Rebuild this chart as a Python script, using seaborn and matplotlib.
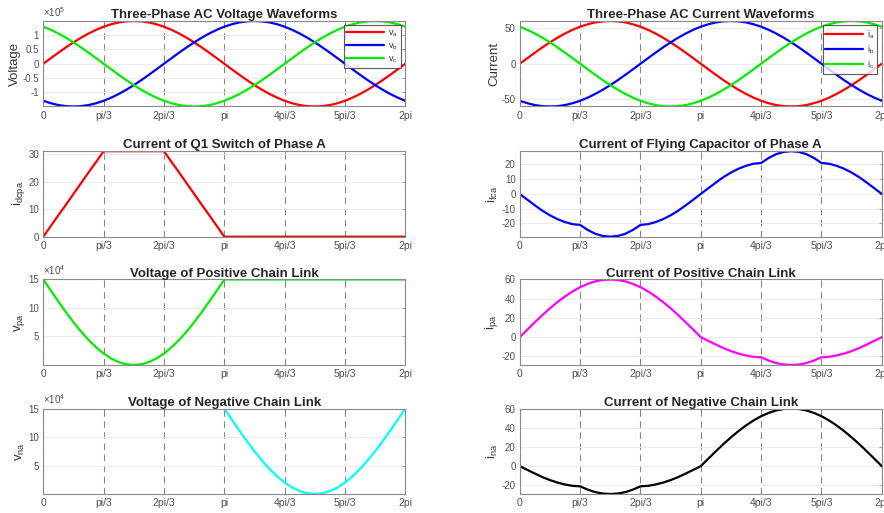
import numpy as np
import matplotlib
matplotlib.use('Agg')
import matplotlib.pyplot as plt
from matplotlib.ticker import ScalarFormatter
import seaborn as sns

# electrical angle in degrees (one period, 7.5 degree steps)
angle = [0, 7.5, 15, 22.5, 30, 37.5, 45, 52.5, 60, 67.5, 75, 82.5, 90,
         97.5, 105, 112.5, 120, 127.5, 135, 142.5, 150, 157.5, 165, 172.5, 180,
         187.5, 195, 202.5, 210, 217.5, 225, 232.5, 240, 247.5, 255, 262.5, 270,
         277.5, 285, 292.5, 300, 307.5, 315, 322.5, 330, 337.5, 345, 352.5, 360]

# three-phase voltages (V)
va = [0, 19600, 38800, 57400, 75000, 91300, 106100, 119000, 129900, 138600, 144900, 148700, 150000,
      148700, 144900, 138600, 129900, 119000, 106100, 91300, 75000, 57400, 38800, 19600, 0,
      -19600, -38800, -57400, -75000, -91300, -106100, -119000, -129900, -138600, -144900, -148700, -150000,
      -148700, -144900, -138600, -129900, -119000, -106100, -91300, -75000, -57400, -38800, -19600, 0]
vb = [-129900, -138600, -144900, -148700, -150000, -148700, -144900, -138600, -129900, -119000, -106100, -91300, -75000,
      -57400, -38800, -19600, 0, 19600, 38800, 57400, 75000, 91300, 106100, 119000, 129900,
      138600, 144900, 148700, 150000, 148700, 144900, 138600, 129900, 119000, 106100, 91300, 75000,
      57400, 38800, 19600, 0, -19600, -38800, -57400, -75000, -91300, -106100, -119000, -129900]
vc = [129900, 119000, 106100, 91300, 75000, 57400, 38800, 19600, 0, -19600, -38800, -57400, -75000,
      -91300, -106100, -119000, -129900, -138600, -144900, -148700, -150000, -148700, -144900, -138600, -129900,
      -119000, -106100, -91300, -75000, -57400, -38800, -19600, 0, 19600, 38800, 57400, 75000,
      91300, 106100, 119000, 129900, 138600, 144900, 148700, 150000, 148700, 144900, 138600, 129900]

# three-phase currents (A)
ia = [0, 7.8, 15.5, 23.0, 30, 36.5, 42.4, 47.6, 52.0, 55.4, 58.0, 59.5, 60,
      59.5, 58.0, 55.4, 52.0, 47.6, 42.4, 36.5, 30, 23.0, 15.5, 7.8, 0,
      -7.8, -15.5, -23.0, -30, -36.5, -42.4, -47.6, -52.0, -55.4, -58.0, -59.5, -60,
      -59.5, -58.0, -55.4, -52.0, -47.6, -42.4, -36.5, -30, -23.0, -15.5, -7.8, 0]
ib = [-52.0, -55.4, -58.0, -59.5, -60, -59.5, -58.0, -55.4, -52.0, -47.6, -42.4, -36.5, -30,
      -23.0, -15.5, -7.8, 0, 7.8, 15.5, 23.0, 30, 36.5, 42.4, 47.6, 52.0,
      55.4, 58.0, 59.5, 60, 59.5, 58.0, 55.4, 52.0, 47.6, 42.4, 36.5, 30,
      23.0, 15.5, 7.8, 0, -7.8, -15.5, -23.0, -30, -36.5, -42.4, -47.6, -52.0]
ic = [52.0, 47.6, 42.4, 36.5, 30, 23.0, 15.5, 7.8, 0, -7.8, -15.5, -23.0, -30,
      -36.5, -42.4, -47.6, -52.0, -55.4, -58.0, -59.5, -60, -59.5, -58.0, -55.4, -52.0,
      -47.6, -42.4, -36.5, -30, -23.0, -15.5, -7.8, 0, 7.8, 15.5, 23.0, 30,
      36.5, 42.4, 47.6, 52.0, 55.4, 58.0, 59.5, 60, 59.5, 58.0, 55.4, 52.0]

# Q1 switch current and flying capacitor current
idcpa = [0, 3.9, 7.8, 11.6, 15.5, 19.4, 23.3, 27.1, 31, 31, 31, 31, 31,
         31, 31, 31, 31, 27.1, 23.3, 19.4, 15.5, 11.6, 7.8, 3.9, 0,
         0, 0, 0, 0, 0, 0, 0, 0, 0, 0, 0, 0,
         0, 0, 0, 0, 0, 0, 0, 0, 0, 0, 0, 0]
ifca = [0, -3.9, -7.7, -11.4, -14.5, -17.1, -19.1, -20.5, -21.0, -24.4, -27.0, -28.5, -29,
        -28.5, -27.0, -24.4, -21.0, -20.5, -19.1, -17.1, -14.5, -11.4, -7.7, -3.9, 0,
        3.9, 7.7, 11.4, 14.5, 17.1, 19.1, 20.5, 21.0, 24.4, 27.0, 28.5, 29,
        28.5, 27.0, 24.4, 21.0, 20.5, 19.1, 17.1, 14.5, 11.4, 7.7, 3.9, 0]

# chain link voltages (V)
vpa = [150000, 130400, 111200, 92600, 75000, 58700, 43900, 31000, 20100, 11400, 5100, 1300, 0,
       1300, 5100, 11400, 20100, 31000, 43900, 58700, 75000, 92600, 111200, 130400, 150000,
       150000, 150000, 150000, 150000, 150000, 150000, 150000, 150000, 150000, 150000, 150000, 150000,
       150000, 150000, 150000, 150000, 150000, 150000, 150000, 150000, 150000, 150000, 150000, 150000]
vna = [150000, 150000, 150000, 150000, 150000, 150000, 150000, 150000, 150000, 150000, 150000, 150000, 150000,
       150000, 150000, 150000, 150000, 150000, 150000, 150000, 150000, 150000, 150000, 150000, 150000,
       130400, 111200, 92600, 75000, 58700, 43900, 31000, 20100, 11400, 5100, 1300, 0,
       1300, 5100, 11400, 20100, 31000, 43900, 58700, 75000, 92600, 111200, 130400, 150000]

# chain link currents (A)
ipa = [0, 7.8, 15.5, 23.0, 30, 36.5, 42.4, 47.6, 52.0, 55.4, 58.0, 59.5, 60,
       59.5, 58.0, 55.4, 52.0, 47.6, 42.4, 36.5, 30, 23.0, 15.5, 7.8, 0,
       -3.9, -7.7, -11.4, -14.5, -17.1, -19.1, -20.5, -21.0, -24.4, -27.0, -28.5, -29,
       -28.5, -27.0, -24.4, -21.0, -20.5, -19.1, -17.1, -14.5, -11.4, -7.7, -3.9, 0]
ina = [0, -3.9, -7.7, -11.4, -14.5, -17.1, -19.1, -20.5, -21.0, -24.4, -27.0, -28.5, -29,
       -28.5, -27.0, -24.4, -21.0, -20.5, -19.1, -17.1, -14.5, -11.4, -7.7, -3.9, 0,
       7.8, 15.5, 23.0, 30, 36.5, 42.4, 47.6, 52.0, 55.4, 58.0, 59.5, 60,
       59.5, 58.0, 55.4, 52.0, 47.6, 42.4, 36.5, 30, 23.0, 15.5, 7.8, 0]

xtick_pos = [0, 60, 120, 180, 240, 300, 360]
xtick_labels = ['0', 'pi/3', '2pi/3', 'pi', '4pi/3', '5pi/3', '2pi']

sns.set_style('white')
plt.rcParams['font.family'] = ['Liberation Sans', 'DejaVu Sans']
plt.rcParams['mathtext.fontset'] = 'custom'
plt.rcParams['mathtext.rm'] = 'Liberation Sans'
plt.rcParams['axes.unicode_minus'] = False


class PlainSci(ScalarFormatter):
    # matlab-like labels: 1, 0.5, 0 instead of 1.0, 0.5, 0.0
    def _set_format(self):
        self.format = '%g'


fig = plt.figure(figsize=(8.84, 5.13), dpi=100)

lefts = [0.049, 0.588]
bottoms = [0.7924, 0.5386, 0.2885, 0.0370]
w, h = 0.4095, 0.1667

axes = {}
for r in range(4):
    for c in range(2):
        axes[(r, c)] = fig.add_axes([lefts[c], bottoms[r], w, h])

LW = 1.6


def style(ax, title, ylabel, ylim, yticks, sci=None):
    ax.set_xlim(0, 360)
    ax.set_ylim(*ylim)
    ax.set_xticks(xtick_pos)
    ax.set_xticklabels(xtick_labels)
    ax.set_yticks(yticks)
    if sci is not None:
        fmt = PlainSci(useMathText=True)
        fmt.set_powerlimits((sci, sci))
        ax.yaxis.set_major_formatter(fmt)
        ax.yaxis.get_offset_text().set_fontsize(7)
        ax.yaxis.get_offset_text().set_color('#555555')
    ax.set_title(title, fontsize=9.5, fontweight='bold', pad=2)
    ax.set_ylabel(ylabel, fontsize=9.5, color='#333333', labelpad=1)
    ax.set_xlabel('')
    ax.tick_params(direction='in', length=2.5, width=0.5, colors='#808080',
                   labelcolor='#505050', pad=3)
    ax.tick_params(axis='x', labelsize=7.5)
    ax.tick_params(axis='y', labelsize=7)
    ax.tick_params(top=True, right=True, labeltop=False, labelright=False)
    for s in ax.spines.values():
        s.set_color('#8a8a8a')
        s.set_linewidth(0.8)
    ax.set_axisbelow(True)
    ax.yaxis.grid(True, color='#ebebeb', lw=0.7, ls='-')
    ax.xaxis.grid(True, color='#888888', lw=0.8, ls=(0, (6, 4)))


# row 1
ax = axes[(0, 0)]
sns.lineplot(x=angle, y=va, ax=ax, color='#ff0000', lw=LW, label='v$_\\mathregular{a}$')
sns.lineplot(x=angle, y=vb, ax=ax, color='#0000ff', lw=LW, label='v$_\\mathregular{b}$')
sns.lineplot(x=angle, y=vc, ax=ax, color='#00ee00', lw=LW, label='v$_\\mathregular{c}$')
style(ax, 'Three-Phase AC Voltage Waveforms', 'Voltage', (-1.5e5, 1.5e5),
      [-1e5, -0.5e5, 0, 0.5e5, 1e5], sci=5)

ax = axes[(0, 1)]
sns.lineplot(x=angle, y=ia, ax=ax, color='#ff0000', lw=LW, label='i$_\\mathregular{a}$')
sns.lineplot(x=angle, y=ib, ax=ax, color='#0000ff', lw=LW, label='i$_\\mathregular{b}$')
sns.lineplot(x=angle, y=ic, ax=ax, color='#00ee00', lw=LW, label='i$_\\mathregular{c}$')
style(ax, 'Three-Phase AC Current Waveforms', 'Current', (-60, 60), [-50, 0, 50])

for ax in (axes[(0, 0)], axes[(0, 1)]):
    leg = ax.legend(loc='upper right', fontsize=6.5, frameon=True, fancybox=False,
                    handlelength=4.2, handletextpad=0.4, borderpad=0.3,
                    labelspacing=0.3, borderaxespad=0.5)
    leg.get_frame().set_edgecolor('#333333')
    leg.get_frame().set_linewidth(0.8)
    for t in leg.get_texts():
        t.set_color('#333333')

# row 2
ax = axes[(1, 0)]
sns.lineplot(x=angle, y=idcpa, ax=ax, color='#ff0000', lw=LW)
style(ax, 'Current of Q1 Switch of Phase A', 'i$_\\mathregular{dcpa}$', (0, 31), [0, 10, 20, 30])

ax = axes[(1, 1)]
sns.lineplot(x=angle, y=ifca, ax=ax, color='#0000ff', lw=LW)
style(ax, 'Current of Flying Capacitor of Phase A', 'i$_\\mathregular{fca}$', (-29, 29),
      [-20, -10, 0, 10, 20])

# row 3
ax = axes[(2, 0)]
sns.lineplot(x=angle, y=vpa, ax=ax, color='#00ee00', lw=LW)
style(ax, 'Voltage of Positive Chain Link', 'v$_\\mathregular{pa}$', (0, 15e4),
      [5e4, 10e4, 15e4], sci=4)

ax = axes[(2, 1)]
sns.lineplot(x=angle, y=ipa, ax=ax, color='#ff00ff', lw=LW)
style(ax, 'Current of Positive Chain Link', 'i$_\\mathregular{pa}$', (-29, 60),
      [-20, 0, 20, 40, 60])

# row 4
ax = axes[(3, 0)]
sns.lineplot(x=angle, y=vna, ax=ax, color='#00ffff', lw=LW)
style(ax, 'Voltage of Negative Chain Link', 'v$_\\mathregular{na}$', (0, 15e4),
      [5e4, 10e4, 15e4], sci=4)

ax = axes[(3, 1)]
sns.lineplot(x=angle, y=ina, ax=ax, color='#000000', lw=LW)
style(ax, 'Current of Negative Chain Link', 'i$_\\mathregular{na}$', (-29, 60),
      [-20, 0, 20, 40, 60])

fig.savefig('out.png', dpi=100)
